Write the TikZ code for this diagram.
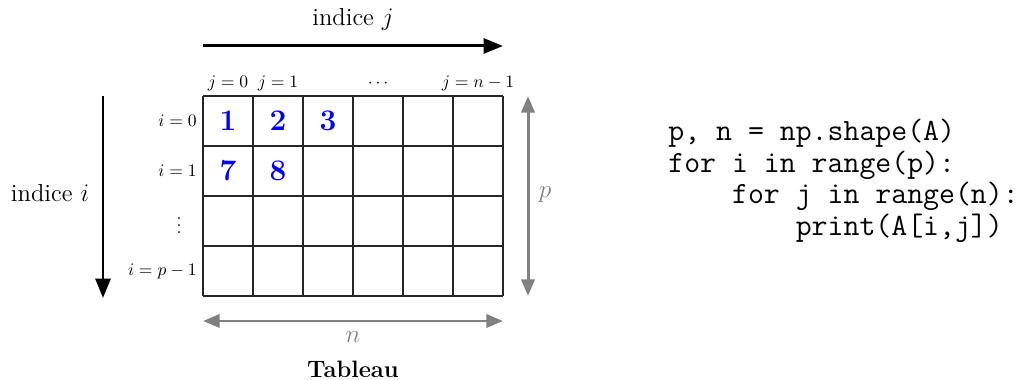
\documentclass[tikz,border=0pt]{standalone}
\usetikzlibrary{arrows.meta}
\begin{document}
\begin{tikzpicture}[x=1cm,y=1cm,
  gridline/.style={line width=0.6pt,draw=black!85},
  bigarrow/.style={line width=1.7pt,-{Triangle[length=11pt,width=8.5pt]}},
  dimarrow/.style={line width=1.7pt,draw=black!50,{Triangle[length=9.5pt,width=7.5pt]}-{Triangle[length=9.5pt,width=7.5pt]}},
  idxlabel/.style={font=\fontsize{10}{11}\selectfont,inner sep=0pt},
  bignum/.style={font=\fontsize{17}{18}\selectfont\bfseries,text=blue,inner sep=0pt},
  axlabel/.style={font=\fontsize{14}{16}\selectfont,inner sep=0pt},
  codeline/.style={font=\ttfamily\fontsize{17.6}{18}\selectfont,anchor=base west,inner sep=0pt}]
\useasboundingbox (0,0) rectangle (20.44,7.6);
% grid
\begin{scope}[shift={(4.06,1.68)}]
  \draw[gridline] (0,0) grid[step=1] (6,4);
\end{scope}
% top arrow
\coordinate (jstart) at (4.06,6.68);
\coordinate (jend) at (10.06,6.68);
\draw[bigarrow] (jstart) -- (jend);
\node[axlabel] (indj) at (7.06,7.22) {indice $j$};
% column labels
\node[idxlabel,anchor=base] (j0) at (4.56,5.84) {$j=0$};
\node[idxlabel,anchor=base] (j1) at (5.56,5.84) {$j=1$};
\node[idxlabel,anchor=base] (jd) at (7.56,5.84) {$\cdots$};
\node[idxlabel,anchor=base] (jn) at (9.56,5.84) {$j=n-1$};
% row labels
\node[idxlabel,anchor=east] (i0) at (3.94,5.18) {$i=0$};
\node[idxlabel,anchor=east] (i1) at (3.94,4.18) {$i=1$};
\node[idxlabel] (id) at (3.58,3.2) {$\vdots$};
\node[idxlabel,anchor=east] (ip) at (3.94,2.18) {$i=p-1$};
% left arrow
\coordinate (istart) at (2.06,5.68);
\coordinate (iend) at (2.06,1.64);
\draw[bigarrow] (istart) -- (iend);
\node[axlabel] (indi) at (1.0,3.74) {indice $i$};
% numbers
\node[bignum] (n1) at (4.56,5.18) {1};
\node[bignum] (n2) at (5.56,5.18) {2};
\node[bignum] (n3) at (6.56,5.18) {3};
\node[bignum] (n7) at (4.56,4.18) {7};
\node[bignum] (n8) at (5.56,4.18) {8};
% dimension arrows
\coordinate (ptop) at (10.56,5.68);
\coordinate (pbot) at (10.56,1.68);
\draw[dimarrow] (ptop) -- (pbot);
\node[axlabel,text=black!50] (plab) at (10.9,3.7) {$p$};
\coordinate (nleft) at (4.06,1.18);
\coordinate (nright) at (10.06,1.18);
\draw[dimarrow] (nleft) -- (nright);
\node[axlabel,text=black!50] (nlab) at (7.06,0.86) {$n$};
\node[font=\fontsize{13.5}{15}\selectfont\bfseries,inner sep=0pt] (tab) at (7.06,0.22) {Tableau};
% code
\node[codeline] (c1) at (13.36,4.78) {p, n = np.shape(A)};
\node[codeline] (c2) at (13.36,4.15) {for i in range(p):};
\node[codeline] (c3) at (13.36,3.52) {\phantom{abcd}for j in range(n):};
\node[codeline] (c4) at (13.36,2.89) {\phantom{abcdefgh}print(A[i,j])};
\end{tikzpicture}
\end{document}
